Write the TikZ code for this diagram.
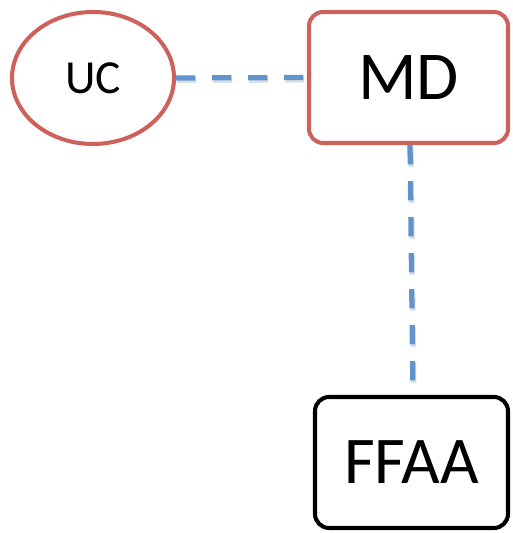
\documentclass[tikz,border=0pt]{standalone}
\usepackage{fontspec}
\setmainfont{Carlito}
\usetikzlibrary{shapes.geometric, positioning, calc}
\definecolor{nodered}{RGB}{205,98,92}
\definecolor{linkblue}{RGB}{96,148,204}
\definecolor{shadowgray}{RGB}{190,190,190}

\begin{document}
\begin{tikzpicture}[
    orgbox/.style={rectangle, rounded corners=8pt, line width=2.3pt,
                   minimum height=2.62cm, inner sep=0pt},
    link/.style={draw=linkblue, line width=3pt, dash pattern=on 11pt off 9.5pt,
                 preaction={draw=shadowgray, line width=3pt, opacity=0.5,
                            dash pattern=on 11pt off 9.5pt,
                            transform canvas={xshift=0.6pt, yshift=-1.4pt}}}]
        \useasboundingbox (0, 0) rectangle (10.24, 10.66);
        \node[ellipse, draw=nodered, line width=2.3pt,
              minimum width=3.24cm, minimum height=2.64cm, inner sep=0pt,
              font=\fontsize{27}{32}\selectfont] (uc)
          at (1.86, 9.1) {UC};
        \node[orgbox, draw=nodered, minimum width=3.98cm,
              font=\fontsize{39}{46}\selectfont] (md)
          at (8.17, 9.11) {MD};
        \node[orgbox, draw=black, minimum width=3.86cm,
              font=\fontsize{38}{45}\selectfont] (ffaa)
          at (8.23, 1.41) {FFAA};
        \path[link] (uc.east) -- (md.west);
        \path[link] ($(md.south)+(0.03,0)$) -- ($(ffaa.north)+(0.03,0)$);
      \end{tikzpicture}
\end{document}
